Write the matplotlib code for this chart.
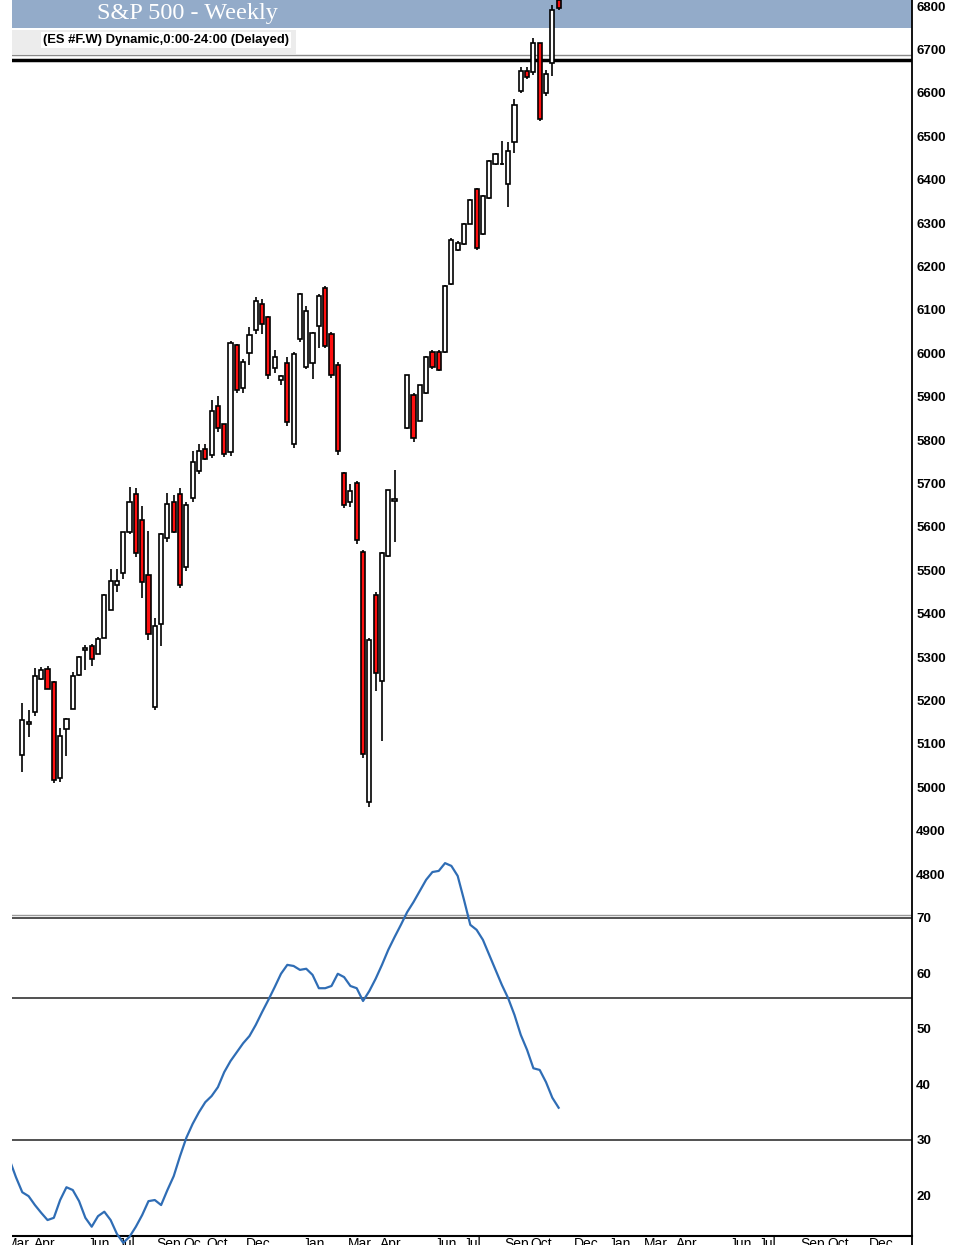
import numpy as np
import matplotlib
matplotlib.use("Agg")
import matplotlib.pyplot as plt
from matplotlib.patches import Rectangle
from matplotlib.lines import Line2D

plt.rcParams['font.family'] = ['Liberation Sans', 'DejaVu Sans']

# weekly ES candles (one per week, None = missing week)
opens = [5074, 5145, 5173, 5250, 5272, 5242, 5021, 5134, 5180, 5258,
         5316, 5325, 5306, 5343, 5408, 5465, 5493, 5589, 5675, 5615,
         5488, 5186, 5375, 5574, 5657, 5675, 5507, 5666, 5729, 5779,
         5765, 5878, 5836, 5773, 6018, 5919, 6000, 6053, 6113, 6083,
         5965, 5938, 5977, 5792, 6034, 5969, 5977, 6062, 6150, 6044,
         5974, 5723, 5657, 5700, 5541, 4965, 5444, 5244, 5533, 5660,
         None, 5827, 5903, 5845, 5908, 6004, 6004, 6004, 6159, 6239,
         6251, 6298, 6378, 6275, 6357, 6437, 6436, 6389, 6487, 6605,
         6650, 6647, 6714, 6599, 6668, 6815]
highs = [5193, 5178, 5274, 5276, 5279, 5245, 5136, 5160, 5265, 5303,
         5328, 5329, 5346, 5445, 5502, 5502, 5589, 5691, 5689, 5648,
         5590, 5389, 5585, 5679, 5673, 5689, 5657, 5775, 5791, 5792,
         5892, 5901, 5838, 6028, 6021, 5987, 6060, 6130, 6124, 6085,
         6007, 5951, 5991, 6003, 6140, 6110, 6050, 6136, 6156, 6048,
         5980, 5727, 5698, 5705, 5546, 5345, 5451, 5541, 5686, 5731,
         None, 5951, 5908, 5928, 5994, 6007, 6007, 6158, 6265, 6258,
         6299, 6355, 6381, 6364, 6445, 6461, 6489, 6486, 6585, 6659,
         6659, 6726, 6716, 6652, 6802, 6830]
lows = [5036, 5115, 5165, 5247, 5226, 5009, 5013, 5072, 5180, 5256,
        5269, 5280, 5306, 5343, 5408, 5451, 5479, 5584, 5531, 5435,
        5339, 5178, 5326, 5564, 5585, 5458, 5498, 5657, 5721, 5754,
        5759, 5819, 5760, 5764, 5908, 5908, 5972, 6044, 6044, 5941,
        5955, 5928, 5833, 5782, 6025, 5964, 5940, 6013, 6011, 5944,
        5766, 5643, 5646, 5561, 5068, 4955, 5222, 5107, 5531, 5566,
        None, 5825, 5796, 5843, 5905, 5964, 5958, 6000, 6158, 6236,
        6249, 6297, 6239, 6273, 6355, 6434, 6434, 6336, 6461, 6600,
        6631, 6642, 6536, 6593, 6640, 6791]
closes = [5155, 5150, 5256, 5269, 5226, 5016, 5117, 5157, 5256, 5301,
          5320, 5295, 5341, 5442, 5475, 5475, 5587, 5657, 5539, 5472,
          5352, 5371, 5583, 5652, 5587, 5465, 5650, 5749, 5774, 5756,
          5868, 5827, 5768, 6023, 5915, 5981, 6041, 6120, 6067, 5949,
          5991, 5947, 5841, 5998, 6136, 6097, 6046, 6132, 6016, 5951,
          5774, 5650, 5682, 5570, 5076, 5339, 5263, 5539, 5684, 5664,
          None, 5949, 5804, 5926, 5991, 5968, 5961, 6155, 6262, 6255,
          6297, 6352, 6242, 6362, 6442, 6458, 6437, 6465, 6573, 6650,
          6636, 6716, 6539, 6643, 6790, 6795]

# indicator (starts two weeks before the first candle)
rsi_start = -2
rsi = [26.4, 23.3, 20.6, 19.9, 18.3, 16.9, 15.6, 16.0, 19.2, 21.5,
       21.0, 19.0, 16.0, 14.4, 16.3, 17.1, 15.6, 13.1, 11.5, 12.6,
       14.4, 16.5, 19.0, 19.2, 18.3, 21.0, 23.5, 27.1, 30.4, 32.9,
       35.0, 36.8, 37.9, 39.5, 42.2, 44.2, 45.8, 47.4, 48.7, 50.7,
       53.0, 55.2, 57.5, 59.9, 61.5, 61.3, 60.6, 60.8, 59.7, 57.3,
       57.3, 57.7, 59.9, 59.3, 57.7, 57.3, 55.0, 56.8, 59.0, 61.5,
       64.2, 66.5, 68.7, 71.0, 72.8, 74.8, 76.8, 78.2, 78.4, 79.8,
       79.3, 77.5, 73.2, 68.7, 67.8, 66.0, 63.3, 60.6, 57.9, 55.5,
       52.5, 48.9, 46.2, 42.9, 42.6, 40.4, 37.6, 35.8]
rsi_levels = [70, 55.5, 30]

price_ticks = list(range(4800, 6801, 100))
rsi_ticks = [20, 30, 40, 50, 60, 70]

month_pos = [-0.7, 3.6, 12.2, 16.6, 23.2, 26.9, 30.9, 37.4, 46.2, 53.5,
             58.4, 67.1, 71.4, 78.4, 82.2, 89.3, 94.7, 100.4, 105.3,
             113.9, 118.2, 125.3, 129.3, 136.2]
month_lab = ['Mar', 'Apr', 'Jun', 'Jul', 'Sep', 'Oc', 'Oct', 'Dec', 'Jan',
             'Mar', 'Apr', 'Jun', 'Jul', 'Sep', 'Oct', 'Dec', 'Jan', 'Mar',
             'Apr', 'Jun', 'Jul', 'Sep', 'Oct', 'Dec']

W, H = 958, 1260
fig = plt.figure(figsize=(W / 100, H / 100), dpi=100)
fig.patch.set_facecolor('white')

xlim = (-1.63, 141.0)

# ---- price panel ----
ax = fig.add_axes([12 / W, 1 - 917 / H, 900 / W, 917 / H])
ax.set_xlim(*xlim)
ax.set_ylim(4701, 6814)
ax.set_facecolor('none')
for s in ax.spines.values():
    s.set_visible(False)

o = np.array([np.nan if v is None else v for v in opens], float)
h = np.array([np.nan if v is None else v for v in highs], float)
l = np.array([np.nan if v is None else v for v in lows], float)
c = np.array([np.nan if v is None else v for v in closes], float)
weeks = np.arange(len(o))
ok = ~np.isnan(o)
colors = ['#ff1010' if cc < oo else 'white' for oo, cc in zip(o[ok], c[ok])]

# header band and label strip (axes fractions)
def ay(py):
    return 1 - py / 917

ax.add_patch(Rectangle((0, ay(28)), 1, 28 / 917, transform=ax.transAxes,
                       facecolor='#93abc9', edgecolor='none', zorder=1))
ax.add_patch(Rectangle((0, ay(54)), 284 / 900, 24 / 917, transform=ax.transAxes,
                       facecolor='#ececec', edgecolor='none', zorder=1))
ax.plot([0, 1], [ay(55), ay(55)], transform=ax.transAxes, color='#8a8a8a', lw=1, zorder=2)
ax.plot([0, 1], [ay(60), ay(60)], transform=ax.transAxes, color='black', lw=2.5, zorder=2)

ax.vlines(weeks[ok], l[ok], h[ok], color='black', lw=1.2, zorder=3)
ax.bar(weeks[ok], c[ok] - o[ok], bottom=o[ok], width=0.66, color=colors,
       edgecolor='black', linewidth=1.2, zorder=4)

ax.set_xticks([])
ax.yaxis.tick_right()
ax.set_yticks(price_ticks)
ax.tick_params(axis='y', length=0, pad=3, labelsize=9.5)
for t in ax.get_yticklabels():
    t.set_fontweight('bold')

fig.text(187 / W, 1 - 13 / H, 'S&P 500 - Weekly', color='white', fontsize=17.5,
         family='Liberation Serif', ha='center', va='center')
fig.text(166 / W, 1 - 40 / H, '(ES #F.W) Dynamic,0:00-24:00 (Delayed)', fontsize=9.4,
         fontweight='bold', ha='center', va='center',
         bbox=dict(facecolor='white', edgecolor='none', pad=1.5))

# ---- indicator panel ----
ax2 = fig.add_axes([12 / W, 1 - 1236 / H, 900 / W, 396 / H])
ax2.set_xlim(*xlim)
ax2.set_ylim(12.73, 83.96)
ax2.set_facecolor('none')
for k, s in ax2.spines.items():
    s.set_visible(k == 'bottom')
ax2.spines['bottom'].set_linewidth(1.5)

ax2.axhline(rsi_levels[0] + 0.55, color='#9a9a9a', lw=1)
for lv in rsi_levels:
    ax2.axhline(lv, color='#222222', lw=1.1)
ax2.plot(np.arange(len(rsi)) + rsi_start, rsi, color='#2f6db5', lw=1.6,
         clip_on=False, zorder=5)

ax2.yaxis.tick_right()
ax2.set_yticks(rsi_ticks)
ax2.tick_params(axis='y', length=0, pad=3, labelsize=9.5)
for t in ax2.get_yticklabels():
    t.set_fontweight('bold')
ax2.set_xticks(month_pos)
ax2.set_xticklabels(month_lab)
ax2.tick_params(axis='x', length=0, pad=1, labelsize=10)

# right border and cropped edges
fig.add_artist(Line2D([912 / W, 912 / W], [1 - 1245 / H, 1], color='black', lw=1.3,
                      transform=fig.transFigure))
fig.add_artist(Rectangle((0, 0), 1, 15 / H, transform=fig.transFigure,
                         facecolor='white', edgecolor='none', zorder=20))
fig.add_artist(Rectangle((0, 0), 12 / W, 1, transform=fig.transFigure,
                         facecolor='white', edgecolor='none', zorder=20))

fig.savefig('out.png', dpi=100)
